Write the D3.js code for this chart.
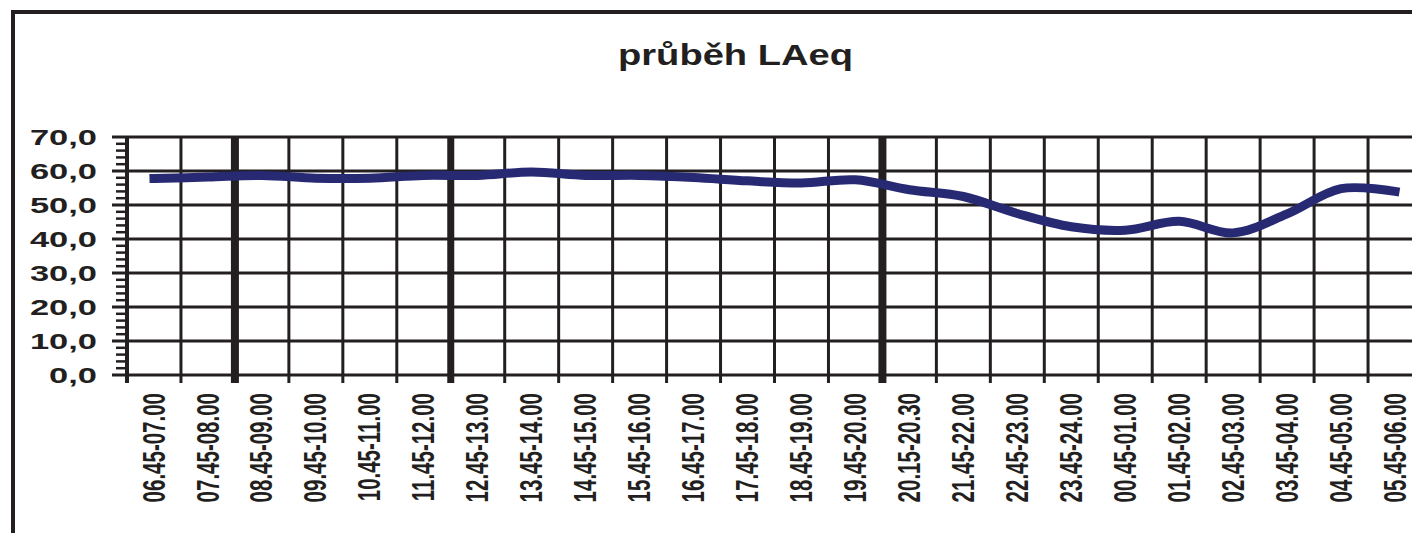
<!DOCTYPE html>
<html>
<head>
<meta charset="utf-8">
<script src="https://cdn.jsdelivr.net/npm/d3@7/dist/d3.min.js"></script>
<style>
  html, body { margin: 0; padding: 0; background: #fff; overflow: hidden; }
  text { font-family: "Liberation Sans", Arial, sans-serif; font-weight: bold; fill: #231f20; }
</style>
</head>
<body>
<svg id="chart" width="1412" height="533"></svg>
<script>
// Měřené intervaly (hodinové vzorky)
const intervals = [
  "06.45-07.00", "07.45-08.00", "08.45-09.00", "09.45-10.00", "10.45-11.00", "11.45-12.00",
  "12.45-13.00", "13.45-14.00", "14.45-15.00", "15.45-16.00", "16.45-17.00", "17.45-18.00",
  "18.45-19.00", "19.45-20.00", "20.15-20.30", "21.45-22.00", "22.45-23.00", "23.45-24.00",
  "00.45-01.00", "01.45-02.00", "02.45-03.00", "03.45-04.00", "04.45-05.00", "05.45-06.00"
];

// Ekvivalentní hladina akustického tlaku LAeq [dB]
const laeq = [
  57.8, 58.2, 58.7, 57.9, 57.9, 58.7,
  58.7, 59.7, 58.7, 58.7, 58.1, 57.1,
  56.5, 57.4, 54.5, 52.5, 47.5, 43.6,
  42.6, 45.2, 41.8, 47.4, 54.8, 54.0
];

const yTicks = [0, 10, 20, 30, 40, 50, 60, 70];
const yMinorTicks = d3.range(0, 70, 2).filter(v => v % 10 !== 0);
const title = "průběh LAeq";

// gridlines drawn heavier (boundary indices)
const heavyRules = { 2: 8, 6: 7, 14: 8 };

const ink = "#231f20";
const lineColor = "#272a73";

const svg = d3.select("#chart");

// outer frame
svg.append("rect")
  .attr("x", 13).attr("y", 12)
  .attr("width", 1600).attr("height", 700)
  .attr("fill", "none").attr("stroke", ink).attr("stroke-width", 4);

const plot = { left: 127, right: 1422, top: 137, bottom: 375 };

const x = d3.scaleBand().domain(intervals).range([plot.left, plot.right]).padding(0);
const y = d3.scaleLinear().domain([0, 70]).range([plot.bottom, plot.top]);

// title
svg.append("text")
  .attr("x", 618).attr("y", 65)
  .attr("font-size", 29)
  .attr("textLength", 235)
  .attr("lengthAdjust", "spacingAndGlyphs")
  .text(title);

// horizontal gridlines (with major ticks)
svg.append("g").selectAll("line").data(yTicks).join("line")
  .attr("x1", 112).attr("x2", plot.right)
  .attr("y1", d => y(d)).attr("y2", d => y(d))
  .attr("stroke", ink).attr("stroke-width", 3);

// minor ticks
svg.append("g").selectAll("line").data(yMinorTicks).join("line")
  .attr("x1", 116).attr("x2", plot.left)
  .attr("y1", d => y(d)).attr("y2", d => y(d))
  .attr("stroke", ink).attr("stroke-width", 2.5);

// vertical gridlines at category boundaries, extending as ticks
const boundaries = intervals.map((c, i) => ({ i: i + 1, x: x(c) + x.bandwidth() }));
svg.append("g").selectAll("line").data(boundaries).join("line")
  .attr("x1", d => d.x).attr("x2", d => d.x)
  .attr("y1", plot.top).attr("y2", plot.bottom + 8)
  .attr("stroke", ink)
  .attr("stroke-width", d => heavyRules[d.i] || 3);

// value axis line
svg.append("line")
  .attr("x1", plot.left).attr("x2", plot.left)
  .attr("y1", plot.top).attr("y2", plot.bottom + 8)
  .attr("stroke", ink).attr("stroke-width", 4);

// y labels
svg.append("g").selectAll("text").data(yTicks).join("text")
  .attr("transform", d => `translate(97,${y(d)}) scale(1.5,1)`)
  .attr("text-anchor", "end")
  .attr("dominant-baseline", "central")
  .attr("font-size", 23)
  .text(d => d.toFixed(1).replace(".", ","));

// x labels (rotated)
svg.append("g").selectAll("text").data(intervals).join("text")
  .attr("transform", d => `translate(${x(d) + x.bandwidth() / 2},393) scale(1.5,1) rotate(-90)`)
  .attr("text-anchor", "end")
  .attr("dominant-baseline", "central")
  .attr("font-size", 20.5)
  .text(d => d);

// LAeq line
const line = d3.line()
  .x((d, i) => x(intervals[i]) + x.bandwidth() / 2)
  .y(d => y(d))
  .curve(d3.curveCatmullRom.alpha(0.5));

svg.append("path")
  .datum(laeq)
  .attr("d", line)
  .attr("fill", "none")
  .attr("stroke", lineColor)
  .attr("stroke-width", 9)
  .attr("stroke-linecap", "square")
  .attr("stroke-linejoin", "round");
</script>
</body>
</html>
